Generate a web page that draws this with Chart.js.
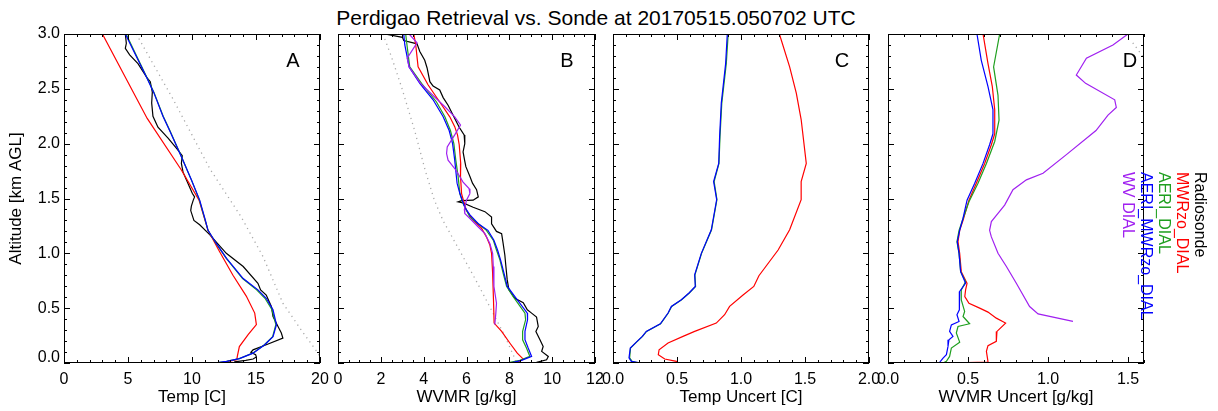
<!DOCTYPE html>
<html><head><meta charset="utf-8">
<script src="https://cdn.jsdelivr.net/npm/chart.js@4.4.1/dist/chart.umd.min.js"></script>
<style>
html,body{margin:0;padding:0;background:#fff;}
#wrap{position:relative;width:1218px;height:411px;overflow:hidden;background:#fff;font-family:"Liberation Sans",Arial,Helvetica,sans-serif;}
#wrap canvas{position:absolute;left:0;top:0;}
#title{position:absolute;left:0;width:1192px;top:5px;text-align:center;font-size:21px;line-height:26px;color:#000;}
.leg{position:absolute;top:172px;writing-mode:vertical-rl;font-size:16px;line-height:18px;white-space:nowrap;}
</style></head><body>
<div id="wrap">
<div id="title">Perdigao Retrieval vs. Sonde at 20170515.050702 UTC</div>
<canvas id="cA" width="1218" height="411"></canvas>
<canvas id="cB" width="1218" height="411"></canvas>
<canvas id="cC" width="1218" height="411"></canvas>
<canvas id="cD" width="1218" height="411"></canvas>
<div class="leg" style="left:1191px;color:#000">Radiosonde</div>
<div class="leg" style="left:1173px;color:#ff0000">MWRzo_DIAL</div>
<div class="leg" style="left:1155px;color:#1f9f1f">AERI_DIAL</div>
<div class="leg" style="left:1137px;color:#0000ff">AERI_MWRzo_DIAL</div>
<div class="leg" style="left:1119px;color:#a020f0">WV DIAL</div>
</div>
<script>
// ---------- Tick labels ----------
const yTickVals = [0, 0.5, 1.0, 1.5, 2.0, 2.5, 3.0];
const yTickLabels = ['0.0','0.5','1.0','1.5','2.0','2.5','3.0'];
const xTickValsA = [0,5,10,15,20];       const xTickLabelsA = ['0','5','10','15','20'];
const xTickValsB = [0,2,4,6,8,10,12];    const xTickLabelsB = ['0','2','4','6','8','10','12'];
const xTickValsC = [0,0.5,1.0,1.5,2.0];  const xTickLabelsC = ['0.0','0.5','1.0','1.5','2.0'];
const xTickValsD = [0,0.5,1.0,1.5];      const xTickLabelsD = ['0.0','0.5','1.0','1.5'];

// ---------- Panel A: Temperature [C] ----------
const sondeA_alt = [3.0,2.915,2.87,2.81,2.73,2.61,2.565,2.47,2.37,2.25,2.15,2.05,1.96,1.89,1.82,1.74,1.67,1.545,1.515,1.485,1.43,1.39,1.30,1.26,1.17,1.0,0.88,0.727,0.667,0.62,0.515,0.424,0.333,0.273,0.227,0.167,0.12,0.097,0.076,0.055,0.036,0.024,0.01];
const sondeA_val = [4.79,4.87,4.79,5.13,5.78,6.43,6.74,6.9,6.85,6.95,7.34,8.13,8.78,9.24,9.17,9.3,9.56,10.03,10.2,10.1,9.95,9.9,10.15,10.6,11.38,12.68,14.0,15.15,15.36,15.8,16.2,16.33,16.72,16.98,17.1,15.8,14.77,14.6,14.97,15.03,14.77,14.2,13.3];
const mwrA_alt = [3.0,2.23,1.76,1.485,1.21,1.015,0.80,0.61,0.455,0.35,0.26,0.15,0.06,0.03,0.0];
const mwrA_val = [3.0,6.5,9.17,10.55,11.25,12.16,13.2,14.24,14.9,15.03,14.4,13.7,13.54,13.5,12.2];
const aeriA_alt = [3.0,2.61,2.47,2.25,2.12,1.88,1.67,1.485,1.30,1.21,1.09,0.955,0.77,0.667,0.59,0.485,0.35,0.24,0.167,0.09,0.04,0.015,0.0];
const aeriA_val = [4.85,6.45,7.02,7.75,8.27,9.18,9.95,10.58,11.03,11.25,11.88,12.68,13.95,15.05,15.7,16.25,16.55,16.3,15.66,14.75,13.7,12.7,11.8];
const amA_alt = [3.0,2.61,2.47,2.25,2.12,1.88,1.67,1.485,1.30,1.21,1.09,0.955,0.77,0.667,0.59,0.485,0.35,0.24,0.167,0.09,0.04,0.015,0.0];
const amA_val = [4.79,6.43,7.0,7.73,8.25,9.17,9.95,10.6,11.05,11.25,11.9,12.7,14.0,15.15,15.8,16.33,16.6,16.33,15.68,14.77,13.7,12.7,11.7];
const refA_alt = [3.0,2.73,2.41,2.09,1.77,1.33,0.97,0.545,0.30,0.09,0.0];
const refA_val = [5.65,6.95,8.5,9.95,11.4,13.85,15.55,17.1,18.54,19.84,20.2];

// ---------- Panel B: WVMR [g/kg] ----------
const sondeB_alt = [3.0,2.97,2.94,2.91,2.84,2.76,2.69,2.565,2.525,2.49,2.42,2.35,2.245,2.15,2.08,2.0,1.925,1.85,1.79,1.70,1.64,1.58,1.515,1.485,1.48,1.47,1.46,1.42,1.38,1.33,1.27,1.20,1.18,1.09,0.985,0.88,0.76,0.667,0.59,0.55,0.485,0.455,0.418,0.333,0.288,0.212,0.15,0.106,0.06,0.03,0.006];
const sondeB_val = [2.18,3.01,3.07,3.69,3.82,4.05,4.16,4.29,4.44,4.75,4.91,5.14,5.41,5.66,5.89,5.92,5.84,5.91,5.97,6.16,6.28,6.47,6.55,6.31,5.77,5.61,5.84,6.31,6.86,7.17,7.17,7.40,7.64,7.71,7.79,7.84,7.90,7.98,8.26,8.65,8.84,9.04,9.27,9.35,9.24,9.43,9.58,9.51,9.82,9.74,9.27];
const mwrB_alt = [3.0,2.9,2.70,2.535,2.38,2.245,2.155,2.08,1.99,1.82,1.70,1.545,1.44,1.39,1.30,1.23,1.15,1.076,1.0,0.82,0.576,0.364,0.288,0.18,0.09,0.036,0.009,0.0];
const mwrB_val = [3.54,3.63,3.74,4.21,4.75,5.22,5.45,5.58,5.66,5.73,5.72,5.77,5.92,6.0,6.31,6.70,6.93,7.09,7.17,7.22,7.26,7.29,7.64,8.03,8.37,8.65,8.41,8.1];
const aeriB_alt = [3.0,2.885,2.70,2.55,2.38,2.245,2.12,2.0,1.85,1.70,1.545,1.455,1.33,1.27,1.21,1.12,1.03,0.94,0.82,0.70,0.606,0.455,0.394,0.288,0.212,0.136,0.06,0.024,0.006];
const aeriB_val = [3.16,3.23,3.35,3.9,4.6,4.99,5.25,5.41,5.5,5.61,5.69,5.84,6.16,6.55,6.93,7.25,7.40,7.56,7.71,7.87,8.18,8.73,8.76,8.62,8.62,8.80,8.96,8.49,8.03];
const amB_alt = [3.0,2.9,2.70,2.55,2.40,2.245,2.12,2.0,1.85,1.64,1.545,1.42,1.35,1.27,1.21,1.12,1.03,0.94,0.82,0.70,0.606,0.455,0.394,0.288,0.212,0.136,0.06,0.024,0.0];
const amB_val = [3.07,3.12,3.32,3.82,4.44,4.91,5.19,5.35,5.45,5.56,5.69,5.92,6.16,6.55,7.0,7.28,7.45,7.59,7.75,7.9,8.26,8.84,8.85,8.73,8.73,8.88,9.04,8.57,8.03];
const dialB_alt = [3.0,2.92,2.78,2.70,2.55,2.337,2.245,2.17,2.08,1.97,1.91,1.85,1.76,1.65,1.59,1.545,1.485,1.40,1.364,1.318,1.24,1.18,1.09,1.0,0.88,0.70,0.545,0.455,0.35];
const dialB_val = [3.32,3.69,3.23,3.32,3.85,4.99,5.45,5.72,5.45,5.1,5.07,5.14,5.5,5.84,6.12,6.16,6.0,5.9,5.92,6.16,6.55,6.86,7.09,7.22,7.25,7.28,7.40,7.37,7.32];
const refB_alt = [3.0,2.79,2.52,2.12,1.75,1.485,1.30,1.0,0.75,0.5,0.25,0.0];
const refB_val = [2.1,2.5,2.96,3.58,4.08,4.5,4.9,5.75,6.45,7.12,7.78,8.35];

// ---------- Panel C: Temperature uncertainty [C] ----------
const mwrC_alt = [3.0,2.70,2.46,2.22,1.82,1.655,1.49,1.215,1.03,0.796,0.698,0.62,0.516,0.44,0.364,0.288,0.243,0.182,0.121,0.076,0.036,0.015,0.0];
const mwrC_val = [1.30,1.38,1.432,1.47,1.51,1.47,1.47,1.38,1.29,1.14,1.10,1.016,0.911,0.872,0.807,0.638,0.547,0.43,0.36,0.354,0.404,0.495,0.5];
const aeriC_alt = [3.0,2.73,2.37,2.065,1.82,1.655,1.49,1.215,1.0,0.805,0.698,0.638,0.577,0.516,0.456,0.358,0.288,0.243,0.188,0.137,0.046,0.015,0.0];
const aeriC_val = [0.9,0.885,0.85,0.836,0.828,0.79,0.812,0.77,0.692,0.64,0.645,0.596,0.536,0.458,0.432,0.372,0.262,0.231,0.182,0.137,0.13,0.15,0.2];
const amC_alt = [3.0,2.73,2.37,2.065,1.82,1.655,1.49,1.215,1.0,0.805,0.698,0.638,0.577,0.516,0.456,0.358,0.288,0.243,0.188,0.137,0.046,0.015,0.0];
const amC_val = [0.893,0.88,0.846,0.833,0.826,0.786,0.81,0.768,0.69,0.638,0.643,0.594,0.534,0.456,0.43,0.37,0.26,0.229,0.18,0.135,0.125,0.143,0.221];

// ---------- Panel D: WVMR uncertainty [g/kg] ----------
const mwrD_alt = [3.0,2.73,2.52,2.31,2.09,1.99,1.82,1.64,1.485,1.30,1.21,1.106,1.0,0.833,0.727,0.667,0.606,0.545,0.5,0.464,0.409,0.364,0.288,0.197,0.158,0.106,0.03,0.009,0.0];
const mwrD_val = [0.594,0.625,0.652,0.667,0.667,0.646,0.604,0.552,0.506,0.469,0.448,0.4375,0.448,0.458,0.494,0.485,0.48,0.506,0.573,0.625,0.677,0.735,0.681,0.677,0.625,0.615,0.623,0.625,0.36];
const aeriD_alt = [3.0,2.70,2.44,2.215,2.02,1.82,1.64,1.47,1.30,1.21,1.106,1.0,0.833,0.742,0.667,0.576,0.47,0.424,0.358,0.333,0.273,0.19,0.136,0.06,0.015,0.0];
const aeriD_val = [0.698,0.66,0.6875,0.694,0.667,0.615,0.5625,0.506,0.465,0.444,0.431,0.444,0.454,0.485,0.458,0.458,0.479,0.469,0.51,0.4375,0.427,0.448,0.396,0.385,0.365,0.344];
const amD_alt = [3.0,2.76,2.52,2.31,2.09,1.99,1.82,1.64,1.485,1.32,1.21,1.106,1.0,0.833,0.727,0.652,0.576,0.485,0.44,0.379,0.348,0.288,0.242,0.212,0.152,0.076,0.045,0.006,0.0];
const amD_val = [0.556,0.583,0.625,0.656,0.656,0.635,0.594,0.542,0.494,0.469,0.448,0.433,0.444,0.454,0.485,0.448,0.444,0.448,0.431,0.444,0.396,0.385,0.406,0.381,0.375,0.365,0.344,0.323,0.3125];
const dialD_alt = [3.0,2.9,2.78,2.626,2.55,2.40,2.33,2.26,2.12,1.90,1.73,1.67,1.58,1.44,1.364,1.29,1.21,1.15,1.0,0.88,0.727,0.515,0.448,0.379];
const dialD_val = [1.5,1.406,1.24,1.177,1.235,1.417,1.427,1.375,1.30,1.115,0.969,0.865,0.781,0.729,0.6875,0.646,0.635,0.646,0.6875,0.74,0.802,0.885,0.938,1.156];
const refD_alt = [2.92,2.78];
const refD_val = [1.53,1.6];

// ---------- Styling ----------
const FONT = '"Liberation Sans", Arial, Helvetica, sans-serif';
const C_SONDE = '#000000', C_MWR = '#ff0000', C_AERI = '#1f9f1f', C_AM = '#0000ff', C_DIAL = '#a020f0', C_REF = '#a8a8a8';

function pts(vals, alts){ return alts.map((a,i)=>({x: vals[i], y: a})); }
function ds(vals, alts, color, dashed){
  return {data: pts(vals, alts), borderColor: color, borderWidth: dashed ? 1.3 : 1.2,
          borderDash: dashed ? [1.2, 4] : [], pointRadius: 0, tension: 0, fill: false};
}

const framePlugin = {
  id: 'frame',
  afterDraw(chart){
    const p = chart.options.plugins.frame;
    const {ctx, chartArea: a} = chart;
    const x = chart.scales.x, y = chart.scales.y;
    ctx.save();
    ctx.strokeStyle = '#000'; ctx.lineWidth = 1;
    ctx.strokeRect(a.left + 0.5, a.top + 0.5, a.right - a.left - 1, a.bottom - a.top - 1);
    ctx.beginPath();
    const nx = Math.round((p.xmax - p.xmin) / p.xminor);
    for (let i = 0; i <= nx; i++){
      const v = p.xmin + i * p.xminor;
      const r = v / p.xmajor, major = Math.abs(r - Math.round(r)) < 1e-6;
      const L = major ? 6 : 3;
      const px = Math.round(x.getPixelForValue(v)) + 0.5;
      ctx.moveTo(px, a.bottom); ctx.lineTo(px, a.bottom - L);
      ctx.moveTo(px, a.top); ctx.lineTo(px, a.top + L);
    }
    const ny = Math.round(3 / 0.1);
    for (let i = 0; i <= ny; i++){
      const v = i * 0.1;
      const major = (i % 5) === 0;
      const L = major ? 6 : 3;
      const py = Math.round(y.getPixelForValue(v)) + 0.5;
      ctx.moveTo(a.left, py); ctx.lineTo(a.left + L, py);
      ctx.moveTo(a.right, py); ctx.lineTo(a.right - L, py);
    }
    ctx.stroke();
    ctx.fillStyle = '#000';
    ctx.font = '20px ' + FONT;
    ctx.textAlign = 'center'; ctx.textBaseline = 'middle';
    ctx.fillText(p.letter, a.right - p.letterDx, a.top + 27);
    if (p.yLabels){
      ctx.font = '16px ' + FONT;
      ctx.textAlign = 'right';
      yTickVals.forEach((v, i) => {
        const py = y.getPixelForValue(v) - (v === 0 ? 5 : 0);
        ctx.fillText(yTickLabels[i], a.left - 4, py);
      });
    }
    ctx.restore();
  }
};

function makePanel(id, cfg){
  const isA = !!cfg.yLabels;
  return new Chart(document.getElementById(id), {
    type: 'line',
    data: {datasets: cfg.datasets},
    options: {
      responsive: false, animation: false, devicePixelRatio: 1,
      layout: {padding: {left: isA ? 0 : cfg.left, right: 1218 - cfg.right, top: 34, bottom: 0}},
      plugins: {legend: {display: false}, tooltip: {enabled: false},
        frame: {letter: cfg.letter, letterDx: cfg.letterDx, xmin: cfg.xmin, xmax: cfg.xmax,
                xmajor: cfg.xmajor, xminor: cfg.xminor, yLabels: isA}},
      scales: {
        x: {type: 'linear', min: cfg.xmin, max: cfg.xmax,
            afterBuildTicks: s => { s.ticks = cfg.tickVals.map(v => ({value: v})); },
            ticks: {autoSkip: false, maxRotation: 0, color: '#000', padding: 7,
                    font: {family: FONT, size: 16},
                    callback: (v) => { const k = cfg.tickVals.indexOf(v); return k >= 0 ? cfg.tickLabels[k] : ''; }},
            grid: {display: false, drawTicks: false}, border: {display: false},
            title: {display: true, text: cfg.xtitle, color: '#000', font: {family: FONT, size: 17},
                    padding: {top: 0, bottom: 3}},
            afterFit: s => { s.height = 48; }},
        y: {type: 'linear', min: 0, max: 3, display: isA,
            ticks: {display: false}, grid: {display: false, drawTicks: false}, border: {display: false},
            title: {display: isA, text: 'Altitude [km AGL]', color: '#000', font: {family: FONT, size: 17},
                    padding: {top: 6, bottom: 0}},
            afterFit: s => { s.width = isA ? 64 : 0; }}
      }
    },
    plugins: [framePlugin]
  });
}

makePanel('cA', {left: 64, right: 320, letter: 'A', letterDx: 27, xmin: 0, xmax: 20, xmajor: 5, xminor: 1,
  tickVals: xTickValsA, tickLabels: xTickLabelsA, xtitle: 'Temp [C]', yLabels: true,
  datasets: [ds(amA_val, amA_alt, C_AM), ds(aeriA_val, aeriA_alt, C_AERI), ds(mwrA_val, mwrA_alt, C_MWR),
             ds(sondeA_val, sondeA_alt, C_SONDE), ds(refA_val, refA_alt, C_REF, true)]});
makePanel('cB', {left: 338, right: 595, letter: 'B', letterDx: 28, xmin: 0, xmax: 12, xmajor: 2, xminor: 0.5,
  tickVals: xTickValsB, tickLabels: xTickLabelsB, xtitle: 'WVMR [g/kg]',
  datasets: [ds(dialB_val, dialB_alt, C_DIAL), ds(amB_val, amB_alt, C_AM), ds(aeriB_val, aeriB_alt, C_AERI),
             ds(mwrB_val, mwrB_alt, C_MWR), ds(sondeB_val, sondeB_alt, C_SONDE), ds(refB_val, refB_alt, C_REF, true)]});
makePanel('cC', {left: 613, right: 869, letter: 'C', letterDx: 27, xmin: 0, xmax: 2, xmajor: 0.5, xminor: 0.1,
  tickVals: xTickValsC, tickLabels: xTickLabelsC, xtitle: 'Temp Uncert [C]',
  datasets: [ds(amC_val, amC_alt, C_AM), ds(aeriC_val, aeriC_alt, C_AERI), ds(mwrC_val, mwrC_alt, C_MWR)]});
makePanel('cD', {left: 888, right: 1144, letter: 'D', letterDx: 14, xmin: 0, xmax: 1.6, xmajor: 0.5, xminor: 0.1,
  tickVals: xTickValsD, tickLabels: xTickLabelsD, xtitle: 'WVMR Uncert [g/kg]',
  datasets: [ds(dialD_val, dialD_alt, C_DIAL), ds(amD_val, amD_alt, C_AM), ds(aeriD_val, aeriD_alt, C_AERI),
             ds(mwrD_val, mwrD_alt, C_MWR), ds(refD_val, refD_alt, C_REF, true)]});
</script>
</body></html>
